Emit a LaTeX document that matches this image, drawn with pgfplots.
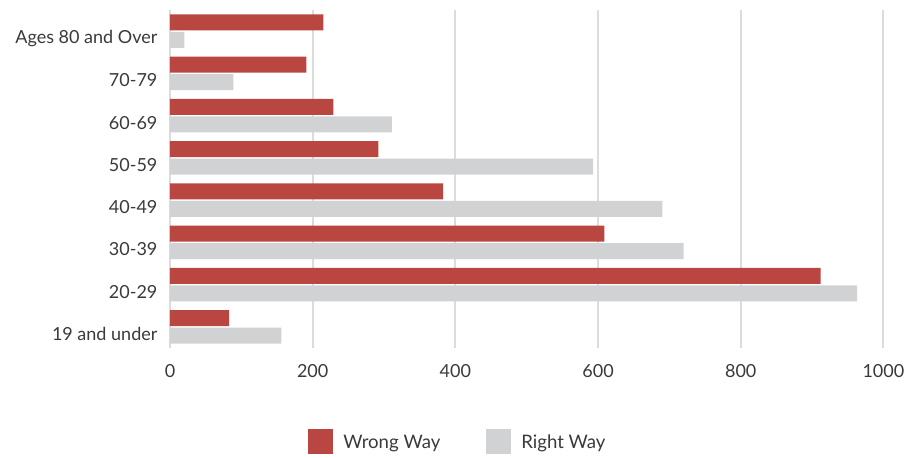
\documentclass[border=0pt]{standalone}
\usepackage{pgfplots}
\pgfplotsset{compat=1.18}
\usepackage{fontspec}
\setmainfont{Lato}
\definecolor{wrongred}{HTML}{B94641}
\definecolor{rightgray}{HTML}{D1D2D4}
\definecolor{gridgray}{HTML}{DCDCDC}
\definecolor{labeltext}{HTML}{3A3A3A}

% age group (0 = youngest)  wrong-way  right-way
\pgfplotstableread{
idx wrong right
0   83    156
1   912   963
2   609   720
3   383   690
4   292   593
5   229   311
6   191   89
7   215   20
}\crashdata

\begin{document}
\begin{tikzpicture}
\useasboundingbox (-85pt,-54.5pt) rectangle (367pt,174pt);
\begin{axis}[
  scale only axis,
  width=356.7pt, height=169pt,
  xbar, bar width=8pt,
  xmin=0, xmax=1000,
  ymin=-0.5, ymax=7.5,
  axis line style={draw=none},
  xtick={0,200,...,1000},
  ytick={0,...,7},
  yticklabels={19 and under,20-29,30-39,40-49,50-59,60-69,70-79,Ages 80 and Over},
  tick style={draw=none},
  xmajorgrids,
  grid style={gridgray, line width=1pt},
  ticklabel style={font=\fontsize{9}{11}\selectfont, text=labeltext},
  /pgf/number format/assume math mode=true,
  /pgf/number format/1000 sep={},
  xticklabel style={yshift=-4.5pt},
  yticklabel style={xshift=1.5pt, yshift=-3.5pt},
  legend style={
    draw=none, fill=none,
    at={(0.405,-0.28)}, anchor=center,
    legend columns=2,
    font=\fontsize{9.3}{11}\selectfont, text=labeltext,
    /tikz/every odd column/.append style={column sep=3pt},
    /tikz/every even column/.append style={column sep=21pt},
  },
  legend image code/.code={\fill[#1] (0pt,-5.5pt) rectangle (12.5pt,7pt);},
]
\addplot[fill=wrongred, draw=none, bar shift=4.33pt] table[x=wrong, y=idx] {\crashdata};
\addplot[fill=rightgray, draw=none, bar shift=-4.33pt] table[x=right, y=idx] {\crashdata};
\legend{Wrong Way, Right Way}
\end{axis}
\end{tikzpicture}
\end{document}
